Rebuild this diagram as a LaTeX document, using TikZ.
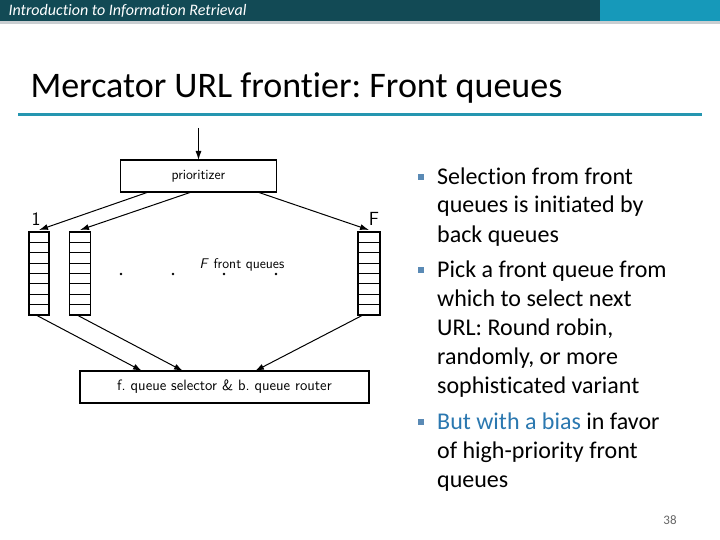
\documentclass[tikz,border=0pt]{standalone}
\usepackage{fontspec}
\setmainfont{Carlito}[Ligatures=NoCommon]
\usetikzlibrary{arrows.meta,positioning,calc}
\definecolor{HeadDark}{HTML}{124A55}
\definecolor{HeadLight}{HTML}{1699BA}
\definecolor{HeadGray}{HTML}{C9CED1}
\definecolor{RuleBlue}{HTML}{2596B0}
\definecolor{BulletBlue}{HTML}{5A8AB5}
\definecolor{BiasBlue}{HTML}{2B78B0}
\frenchspacing

\begin{document}
\begin{tikzpicture}[x=1pt, y=-1pt,
    box/.style={draw, line width=1.2pt, inner sep=0pt, outer sep=0pt, minimum height=32pt, font=\sffamily\fontsize{14}{16}\selectfont},
    queue/.style={draw, line width=1.2pt, inner sep=0pt, outer sep=0pt, minimum height=83pt},
    arrow/.style={-{Latex[length=9pt,width=6pt]}, line width=1pt},
    bullettext/.style={anchor=base west, align=left, inner sep=0pt, font=\fontsize{24}{29}\selectfont},
    bulletmark/.style={fill=BulletBlue, inner sep=0pt, minimum size=6pt}
  ]
    \useasboundingbox (0,0) rectangle (720,540);
    \fill[white] (0,0) rectangle (720,540);

    % header band and title
    \fill[HeadDark] (0,0) rectangle (600,21);
    \fill[HeadLight] (600,0) rectangle (720,21);
    \fill[HeadGray] (0,21) rectangle (720,24);
    \node[anchor=west, text=white, font=\itshape\fontsize{16}{18}\selectfont] (header) at (5,11) {Introduction to Information Retrieval};
    \node[anchor=base west, font=\fontsize{36}{40}\selectfont] (title) at (27,98) {Mercator URL frontier: Front queues};
    \fill[RuleBlue] (18,113) rectangle (702,116);

    % diagram
    \coordinate (feed) at (198.5,128);
    \node[box, minimum width=156pt] (prio) at (198.5,176) {prioritizer};
    \node[queue, minimum width=20pt] (qa) at (39,273.5) {};
    \node[queue, minimum width=21pt] (qb) at (80,273.5) {};
    \node[queue, minimum width=22pt] (qf) at (369,273.5) {};
    \node[box, minimum width=289pt, font=\sffamily\fontsize{15}{17}\selectfont] (sel) at (224.5,387) {f. queue selector \& b. queue router};
    \node[font=\sffamily\fontsize{19}{22}\selectfont] (lab1) at (36,219) {1};
    \node[font=\sffamily\fontsize{19}{22}\selectfont] (labF) at (374,219) {F};
    \node[font=\sffamily\fontsize{14}{16}\selectfont] (nfront) at (242,265) {\textit{F} front queues};

    \foreach \q in {qa,qb,qf}
      \foreach \i in {1,...,7}
        \draw[line width=1.2pt] ($(\q.north west)!\i/8!(\q.south west)$) -- ($(\q.north east)!\i/8!(\q.south east)$);
    \foreach \x in {121,173,224,276}
      \fill (\x,274) circle (1.4pt);

    \draw[arrow] (feed) -- (prio.north);
    \draw[arrow] ([xshift=28pt]prio.south west) -- ([yshift=2pt]qa.north);
    \draw[arrow] ([xshift=71pt]prio.south west) -- ([yshift=2pt]qb.north);
    \draw[arrow] ([xshift=137pt]prio.south west) -- ([yshift=2pt]qf.north);
    \draw[arrow] ([xshift=-3pt]qa.south) -- ([xshift=62pt]sel.north west);
    \draw[arrow] ([xshift=-3pt]qb.south) -- ([xshift=103pt]sel.north west);
    \draw[arrow] ([xshift=-6pt]qf.south) -- ([xshift=175pt]sel.north west);

    % bullet list (anchored at the last line)
    \node[bullettext] (b1) at (437,242) {Selection from front\\queues is initiated by\\back queues};
    \node[bullettext] (b2) at (437,393) {Pick a front queue from\\which to select next\\URL: Round robin,\\randomly, or more\\sophisticated variant};
    \node[bullettext] (b3) at (437,487) {\textcolor{BiasBlue}{But with a bias} in favor\\of high-priority front\\queues};
    \foreach \b/\up in {b1/65,b2/123,b3/65}
      \node[bulletmark] at ([xshift=-16pt,yshift=\up pt]\b.base west) {};

    \node[text=gray!80!black, font=\fontsize{13}{15}\selectfont] (pnum) at (670,520) {38};
  \end{tikzpicture}
\end{document}
